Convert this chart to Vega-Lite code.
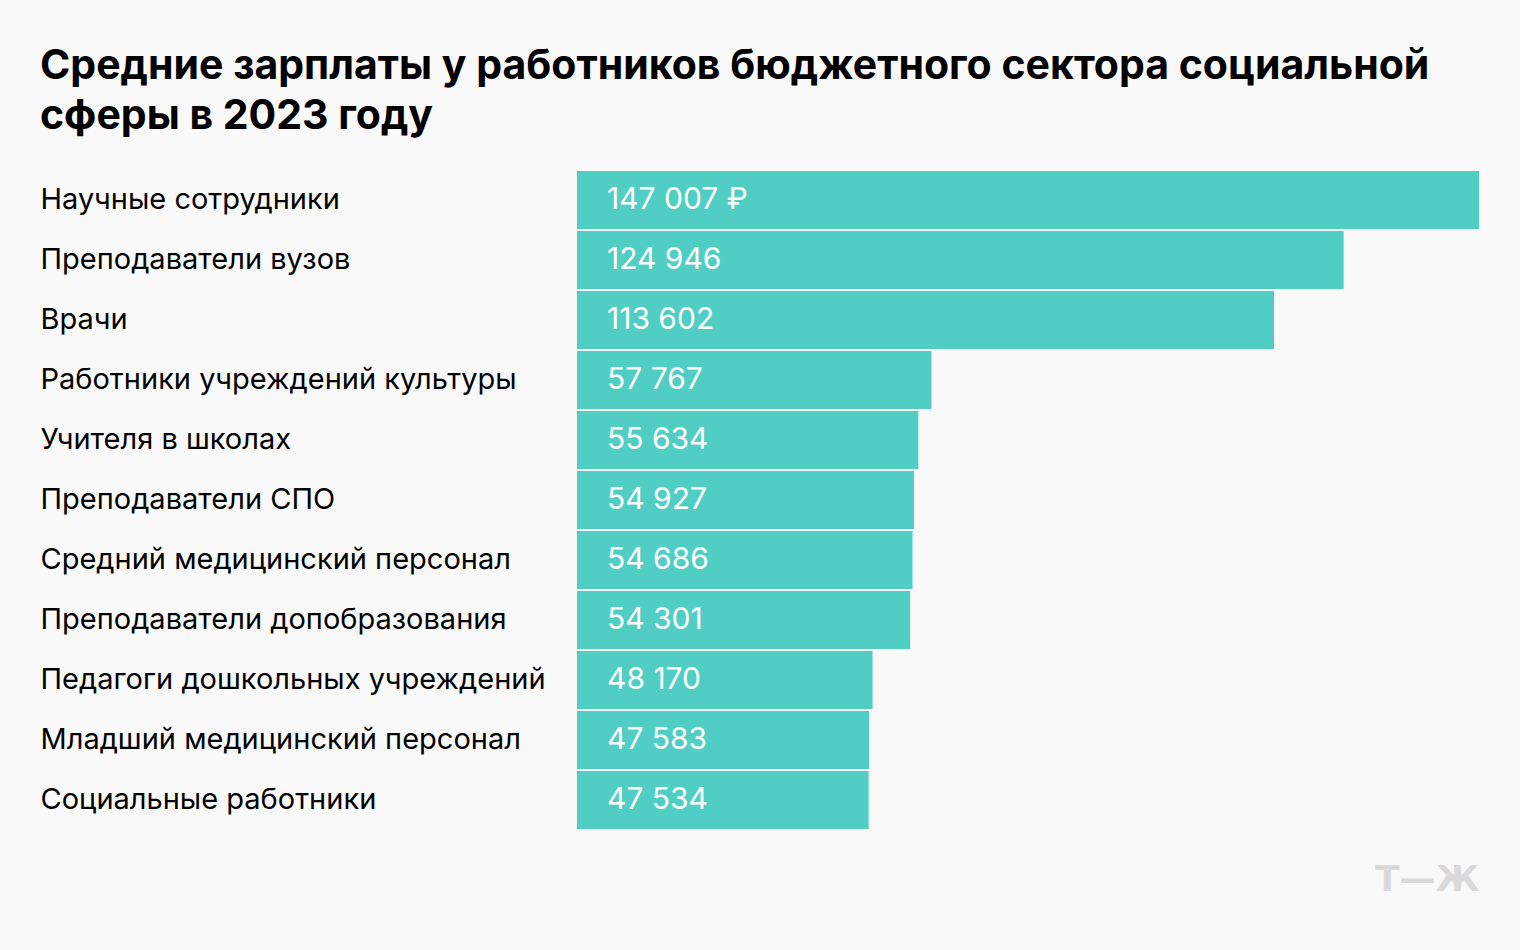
{
  "$schema": "https://vega.github.io/schema/vega-lite/v6.json",
  "width": 902,
  "height": 660,
  "padding": {"left": 40, "right": 41, "top": 46, "bottom": 57},
  "background": "#f9f9f9",
  "title": {
    "text": ["Средние зарплаты у работников бюджетного сектора социальной", "сферы в 2023 году"],
    "anchor": "start",
    "frame": "bounds",
    "font": "Inter",
    "fontSize": 41,
    "fontWeight": "bold",
    "lineHeight": 50,
    "color": "#000000",
    "offset": 32
  },
  "data": {
    "values": [
      {"category": "Научные сотрудники", "value": 147007, "label": "147 007 ₽"},
      {"category": "Преподаватели вузов", "value": 124946, "label": "124 946"},
      {"category": "Врачи", "value": 113602, "label": "113 602"},
      {"category": "Работники учреждений культуры", "value": 57767, "label": "57 767"},
      {"category": "Учителя в школах", "value": 55634, "label": "55 634"},
      {"category": "Преподаватели СПО", "value": 54927, "label": "54 927"},
      {"category": "Средний медицинский персонал", "value": 54686, "label": "54 686"},
      {"category": "Преподаватели допобразования", "value": 54301, "label": "54 301"},
      {"category": "Педагоги дошкольных учреждений", "value": 48170, "label": "48 170"},
      {"category": "Младший медицинский персонал", "value": 47583, "label": "47 583"},
      {"category": "Социальные работники", "value": 47534, "label": "47 534"}
    ]
  },
  "encoding": {
    "y": {
      "field": "category",
      "type": "nominal",
      "sort": null,
      "scale": {"paddingInner": 0.0333, "paddingOuter": 0.0167},
      "axis": {
        "title": null,
        "domain": false,
        "ticks": false,
        "tickSize": 0,
        "labelAlign": "left",
        "labelPadding": 537,
        "labelFont": "Inter",
        "labelFontSize": 29,
        "labelColor": "#000000",
        "labelLimit": 0
      }
    }
  },
  "layer": [
    {
      "mark": {"type": "bar", "color": "#50cec4"},
      "encoding": {
        "x": {
          "field": "value",
          "type": "quantitative",
          "scale": {"domain": [0, 147007], "nice": false},
          "axis": {
            "title": "Т—Ж",
            "titleAnchor": "end",
            "titleFont": "DejaVu Sans",
            "titleFontSize": 36,
            "titleFontWeight": "bold",
            "titleColor": "#d9d9d9",
            "titlePadding": 32,
            "labels": false,
            "ticks": false,
            "domain": false,
            "grid": false
          }
        }
      }
    },
    {
      "mark": {"type": "text", "align": "left", "dx": 30, "font": "Inter", "fontSize": 30, "color": "#ffffff", "baseline": "middle"},
      "encoding": {
        "x": {"datum": 0},
        "text": {"field": "label"}
      }
    }
  ],
  "config": {"view": {"stroke": null}}
}
